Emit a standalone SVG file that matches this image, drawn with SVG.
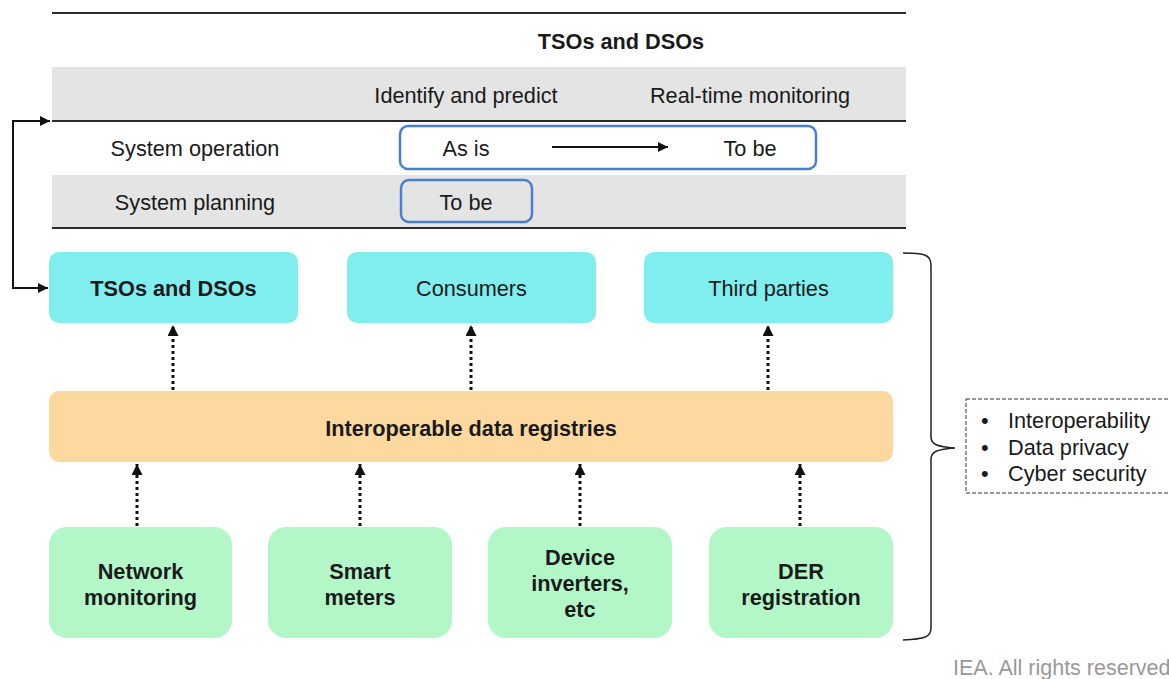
<svg xmlns="http://www.w3.org/2000/svg" width="1169" height="679" viewBox="0 0 1169 679">
<defs>
<style>
text{font-family:"Liberation Sans",Arial,sans-serif;font-size:21.7px;fill:#1a1a1a;text-anchor:middle}
.b{font-weight:bold}
.l{text-anchor:start}
.rule{stroke:#2a2a2a;stroke-width:2;fill:none}
.band{fill:#e4e4e4}
.blue{fill:#fff;stroke:#4a7fd0;stroke-width:2.5}
.cyan{fill:#80eeee}
.orange{fill:#fdd9a0}
.green{fill:#b3f7c9}
.dot{stroke:#111;stroke-width:3;stroke-dasharray:3 3;fill:none}
.solid{stroke:#111;stroke-width:2;fill:none}
</style>
<marker id="ah" viewBox="0 0 10 10" refX="10" refY="5" markerWidth="10" markerHeight="10" markerUnits="userSpaceOnUse" orient="auto-start-reverse">
<path d="M0,0 L10,5 L0,10 z" fill="#111"/>
</marker>
<marker id="ahd" viewBox="0 0 10 10" refX="10" refY="5" markerWidth="12" markerHeight="11" markerUnits="userSpaceOnUse" orient="auto">
<path d="M0,0 L10,5 L0,10 z" fill="#111"/>
</marker>
</defs>

<g id="table">
<rect class="band" x="52" y="67" width="854" height="53"/>
<rect class="band" x="52" y="175" width="854" height="53"/>
<line class="rule" x1="52" y1="13" x2="906" y2="13"/>
<line class="rule" x1="52" y1="121" x2="906" y2="121"/>
<line class="rule" x1="52" y1="228" x2="906" y2="228"/>
<text class="b" x="621" y="48.5">TSOs and DSOs</text>
<text x="466" y="102.5">Identify and predict</text>
<text x="750" y="102.5">Real-time monitoring</text>
<text x="195" y="155.5">System operation</text>
<text x="195" y="209.5">System planning</text>
</g>

<g id="asis-box">
<rect class="blue" x="400" y="126" width="416" height="43" rx="8"/>
<text x="466" y="155.5">As is</text>
<text x="750" y="155.5">To be</text>
</g>

<g id="tobe-box">
<rect class="blue" x="401" y="180" width="131" height="42" rx="8" style="fill:#e4e4e4"/>
<text x="466" y="209.5">To be</text>
</g>

<g id="node-tsos">
<rect class="cyan" x="49" y="252" width="249" height="71" rx="10"/>
<text class="b" x="173.5" y="295.5">TSOs and DSOs</text>
</g>
<g id="node-consumers">
<rect class="cyan" x="347" y="252" width="249" height="71" rx="10"/>
<text x="471.5" y="295.5">Consumers</text>
</g>
<g id="node-third">
<rect class="cyan" x="644" y="252" width="249" height="71" rx="10"/>
<text x="768.5" y="295.5">Third parties</text>
</g>

<g id="node-registries">
<rect class="orange" x="49" y="391" width="844" height="71" rx="10"/>
<text class="b" x="471" y="435.5">Interoperable data registries</text>
</g>

<g id="node-network">
<rect class="green" x="49" y="527" width="183" height="111" rx="18"/>
<text class="b" x="140.5" y="578.5">Network</text>
<text class="b" x="140.5" y="604.5">monitoring</text>
</g>
<g id="node-smart">
<rect class="green" x="268" y="527" width="184" height="111" rx="18"/>
<text class="b" x="360" y="578.5">Smart</text>
<text class="b" x="360" y="604.5">meters</text>
</g>
<g id="node-device">
<rect class="green" x="488" y="527" width="184" height="111" rx="18"/>
<text class="b" x="580" y="564.5">Device</text>
<text class="b" x="580" y="590.5">inverters,</text>
<text class="b" x="580" y="616.5">etc</text>
</g>
<g id="node-der">
<rect class="green" x="709" y="527" width="184" height="111" rx="18"/>
<text class="b" x="801" y="578.5">DER</text>
<text class="b" x="801" y="604.5">registration</text>
</g>

<g id="node-requirements">
<rect x="966" y="399" width="210" height="94" fill="none" stroke="#333" stroke-width="1" stroke-dasharray="4 2"/>
<text class="l" x="981" y="427.5">•</text>
<text class="l" x="1008" y="427.5">Interoperability</text>
<text class="l" x="981" y="454.5">•</text>
<text class="l" x="1008" y="454.5">Data privacy</text>
<text class="l" x="981" y="480.5">•</text>
<text class="l" x="1008" y="480.5">Cyber security</text>
</g>

<g id="connectors">
<path class="solid" d="M48,288 H13 V121 H50" marker-start="url(#ah)" marker-end="url(#ah)"/>
<line class="solid" x1="552" y1="147" x2="668" y2="147" marker-end="url(#ah)"/>
<line class="dot" x1="173" y1="390" x2="173" y2="325" marker-end="url(#ahd)"/>
<line class="dot" x1="471" y1="390" x2="471" y2="325" marker-end="url(#ahd)"/>
<line class="dot" x1="768" y1="390" x2="768" y2="325" marker-end="url(#ahd)"/>
<line class="dot" x1="137" y1="526" x2="137" y2="464" marker-end="url(#ahd)"/>
<line class="dot" x1="360" y1="526" x2="360" y2="464" marker-end="url(#ahd)"/>
<line class="dot" x1="580" y1="526" x2="580" y2="464" marker-end="url(#ahd)"/>
<line class="dot" x1="800" y1="526" x2="800" y2="464" marker-end="url(#ahd)"/>
<path d="M903,253 C925,253 931,255 931,265 V437 C931,444 937,447 955,448 C937,449 931,452 931,459 V628 C931,637 925,639 903,640" fill="none" stroke="#222" stroke-width="1.5"/>
</g>

<text x="953" y="675" style="text-anchor:start;fill:#999;font-size:21.5px">IEA. All rights reserved</text>
</svg>
